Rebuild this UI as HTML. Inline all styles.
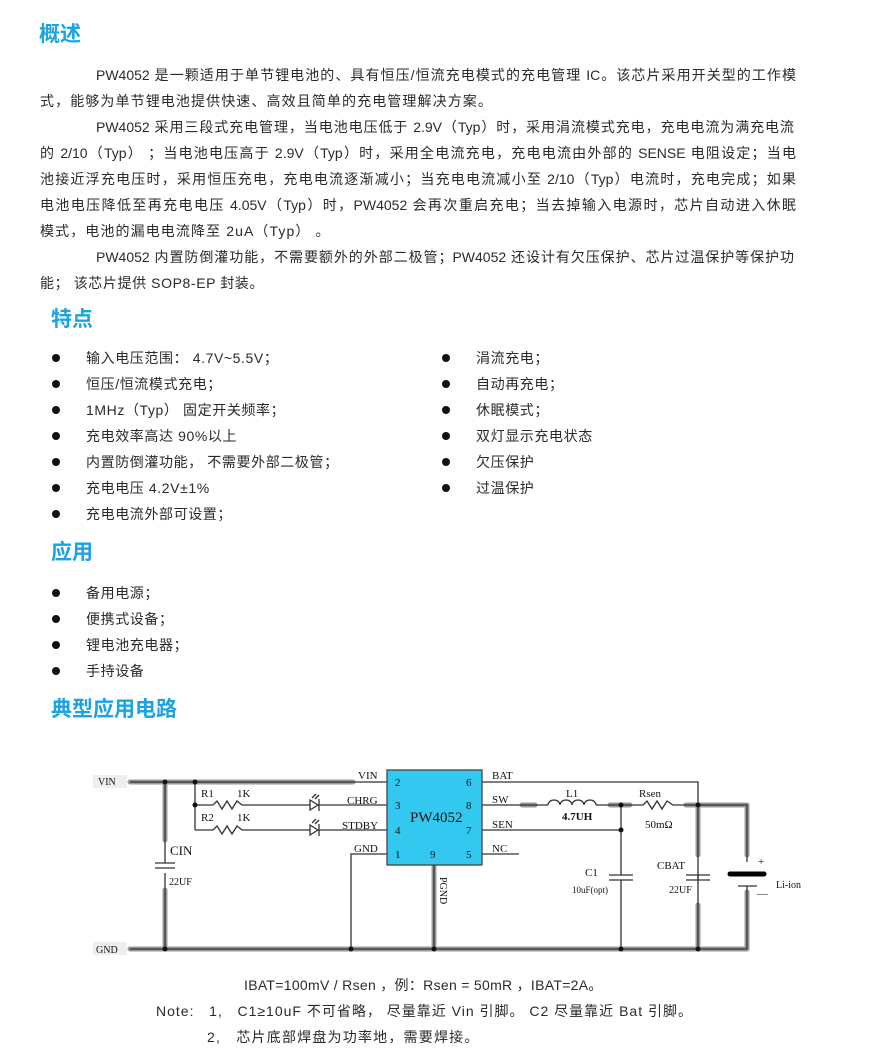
<!DOCTYPE html>
<html><head><meta charset="utf-8"><style>
body{margin:0;width:883px;height:1059px;background:#fff;position:relative;font-family:"Liberation Sans","Noto Sans CJK SC",sans-serif;color:#2a2a2a;overflow:hidden}
.t{position:absolute;font-size:14px;line-height:18px;white-space:nowrap;letter-spacing:1.1px}
.l{letter-spacing:0.6px}
.j{text-align:justify;text-align-last:justify;white-space:normal;letter-spacing:0}
.h{position:absolute;font-size:21px;font-weight:bold;color:#1ba3e4;line-height:24px}
.b{position:absolute;width:8px;height:8px;border-radius:50%;background:#111}
svg text{font-family:"Liberation Serif",serif;fill:#111}
</style></head><body>
<div class="h" style="left:39px;top:23px">概述</div>
<div class="t j" style="left:96px;top:66px;width:700px">PW4052 是一颗适用于单节锂电池的、具有恒压/恒流充电模式的充电管理 IC。该芯片采用开关型的工作模</div>
<div class="t" style="left:40px;top:92px">式，能够为单节锂电池提供快速、高效且简单的充电管理解决方案。</div>
<div class="t j" style="left:96px;top:118px;width:698px">PW4052 采用三段式充电管理，当电池电压低于 2.9V（Typ）时，采用涓流模式充电，充电电流为满充电流</div>
<div class="t j" style="left:40px;top:144px;width:756px">的 2/10（Typ） ；当电池电压高于 2.9V（Typ）时，采用全电流充电，充电电流由外部的 SENSE 电阻设定；当电</div>
<div class="t j" style="left:40px;top:170px;width:756px">池接近浮充电压时，采用恒压充电，充电电流逐渐减小；当充电电流减小至 2/10（Typ）电流时，充电完成；如果</div>
<div class="t j" style="left:40px;top:196px;width:756px">电池电压降低至再充电电压 4.05V（Typ）时，PW4052 会再次重启充电；当去掉输入电源时，芯片自动进入休眠</div>
<div class="t" style="left:40px;top:222px">模式，电池的漏电电流降至 2uA（Typ）  。</div>
<div class="t j" style="left:96px;top:248px;width:698px">PW4052 内置防倒灌功能，不需要额外的外部二极管；PW4052 还设计有欠压保护、芯片过温保护等保护功</div>
<div class="t l" style="left:40px;top:274px">能；  该芯片提供 SOP8-EP 封装。</div>

<div class="h" style="left:51px;top:308px">特点</div>
<div class="b" style="left:52px;top:354px"></div><div class="t l" style="left:86px;top:349px">输入电压范围：  4.7V~5.5V；</div>
<div class="b" style="left:52px;top:380px"></div><div class="t l" style="left:86px;top:375px">恒压/恒流模式充电；</div>
<div class="b" style="left:52px;top:406px"></div><div class="t l" style="left:86px;top:401px">1MHz（Typ） 固定开关频率；</div>
<div class="b" style="left:52px;top:432px"></div><div class="t l" style="left:86px;top:427px">充电效率高达 90%以上</div>
<div class="b" style="left:52px;top:458px"></div><div class="t l" style="left:86px;top:453px">内置防倒灌功能，  不需要外部二极管；</div>
<div class="b" style="left:52px;top:484px"></div><div class="t l" style="left:86px;top:479px">充电电压 4.2V±1%</div>
<div class="b" style="left:52px;top:510px"></div><div class="t l" style="left:86px;top:505px">充电电流外部可设置；</div>
<div class="b" style="left:442px;top:354px"></div><div class="t l" style="left:476px;top:349px">涓流充电；</div>
<div class="b" style="left:442px;top:380px"></div><div class="t l" style="left:476px;top:375px">自动再充电；</div>
<div class="b" style="left:442px;top:406px"></div><div class="t l" style="left:476px;top:401px">休眠模式；</div>
<div class="b" style="left:442px;top:432px"></div><div class="t l" style="left:476px;top:427px">双灯显示充电状态</div>
<div class="b" style="left:442px;top:458px"></div><div class="t l" style="left:476px;top:453px">欠压保护</div>
<div class="b" style="left:442px;top:484px"></div><div class="t l" style="left:476px;top:479px">过温保护</div>

<div class="h" style="left:51px;top:541px">应用</div>
<div class="b" style="left:52px;top:589px"></div><div class="t l" style="left:86px;top:584px">备用电源；</div>
<div class="b" style="left:52px;top:615px"></div><div class="t l" style="left:86px;top:610px">便携式设备；</div>
<div class="b" style="left:52px;top:641px"></div><div class="t l" style="left:86px;top:636px">锂电池充电器；</div>
<div class="b" style="left:52px;top:667px"></div><div class="t l" style="left:86px;top:662px">手持设备</div>
<div class="h" style="left:51px;top:698px">典型应用电路</div>

<svg style="position:absolute;left:0;top:0" width="883" height="1059">
<g stroke="#999" stroke-width="5" stroke-linecap="round" fill="none">
<line x1="130" y1="782" x2="353" y2="782"/>
<line x1="130" y1="949" x2="747" y2="949"/>
<line x1="165" y1="782" x2="165" y2="840"/>
<line x1="165" y1="890" x2="165" y2="949"/>
<line x1="434" y1="865" x2="434" y2="949"/>
<line x1="522" y1="805" x2="535" y2="805"/>
<line x1="610" y1="805" x2="630" y2="805"/>
<line x1="686" y1="805" x2="747" y2="805"/>
<line x1="747" y1="805" x2="747" y2="855"/>
<line x1="747" y1="892" x2="747" y2="949"/>
<line x1="698" y1="805" x2="698" y2="855"/>
<line x1="698" y1="905" x2="698" y2="949"/>
</g>
<g stroke="#333" stroke-width="1.3" fill="none">
<line x1="130" y1="782" x2="387" y2="782"/>
<line x1="130" y1="949" x2="747" y2="949"/>
<line x1="165" y1="782" x2="165" y2="863"/><line x1="165" y1="873" x2="165" y2="949"/>
<line x1="155" y1="863" x2="175" y2="863"/><line x1="155" y1="868" x2="175" y2="868"/>
<line x1="195" y1="782" x2="195" y2="830"/>
<line x1="195" y1="805" x2="213" y2="805"/><line x1="195" y1="830" x2="213" y2="830"/>
<polyline points="213,805 217,801 222,809 227,801 232,809 237,801 242,805 310,805"/>
<polyline points="213,830 217,826 222,834 227,826 232,834 237,826 242,830 310,830"/>
<polygon points="310,800 310,810 318,805" fill="#fff"/><line x1="319" y1="799" x2="319" y2="811"/>
<polygon points="310,825 310,835 318,830" fill="#fff"/><line x1="319" y1="824" x2="319" y2="836"/>
<line x1="312" y1="798" x2="316" y2="794"/><line x1="315" y1="799" x2="319" y2="795"/>
<line x1="312" y1="823" x2="316" y2="819"/><line x1="315" y1="824" x2="319" y2="820"/>
<line x1="319" y1="805" x2="387" y2="805"/><line x1="319" y1="830" x2="387" y2="830"/>
<polyline points="351,949 351,854 387,854"/>
<line x1="434" y1="865" x2="434" y2="949"/>
<polyline points="482,782 698,782 698,949"/>
<line x1="482" y1="805" x2="548" y2="805"/>
<path d="M548,805 a6,5 0 0 1 12,0 a6,5 0 0 1 12,0 a6,5 0 0 1 12,0 a6,5 0 0 1 12,0"/>
<line x1="596" y1="805" x2="643" y2="805"/>
<polyline points="643,805 647,801 652,809 657,801 662,809 667,801 673,805 747,805 747,862"/>
<line x1="482" y1="830" x2="621" y2="830"/>
<line x1="482" y1="854" x2="519" y2="854"/>
<line x1="621" y1="805" x2="621" y2="875"/><line x1="621" y1="880" x2="621" y2="949"/>
<line x1="609" y1="875" x2="633" y2="875"/><line x1="609" y1="880" x2="633" y2="880"/>
<line x1="698" y1="875" x2="698" y2="880"/>
<line x1="686" y1="875" x2="710" y2="875"/><line x1="686" y1="880" x2="710" y2="880"/>
<line x1="747" y1="886" x2="747" y2="949"/>
<line x1="738" y1="886" x2="757" y2="886"/>
</g>
<line x1="730" y1="874" x2="764" y2="874" stroke="#000" stroke-width="5" stroke-linecap="round"/>
<rect x="387" y="770" width="95" height="95" fill="#33c8f0" stroke="#444" stroke-width="1.3"/>
<g fill="#111">
<circle cx="165" cy="782" r="2.5"/><circle cx="195" cy="782" r="2.5"/><circle cx="195" cy="805" r="2.5"/>
<circle cx="165" cy="949" r="2.5"/><circle cx="351" cy="949" r="2.5"/><circle cx="434" cy="949" r="2.5"/>
<circle cx="621" cy="805" r="2.5"/><circle cx="621" cy="830" r="2.5"/><circle cx="698" cy="805" r="2.5"/>
<circle cx="621" cy="949" r="2.5"/><circle cx="698" cy="949" r="2.5"/>
</g>
<rect x="93" y="775" width="34" height="13" fill="#eee"/><rect x="93" y="942" width="34" height="13" fill="#eee"/>
<g font-size="10"><text x="98" y="785">VIN</text><text x="96" y="953">GND</text></g>
<g font-size="11">
<text x="358" y="779">VIN</text><text x="347" y="804">CHRG</text><text x="342" y="829">STDBY</text><text x="354" y="852">GND</text>
<text x="395" y="786">2</text><text x="395" y="809">3</text><text x="395" y="834">4</text><text x="395" y="858">1</text>
<text x="466" y="786">6</text><text x="466" y="809">8</text><text x="466" y="834">7</text><text x="466" y="858">5</text>
<text x="430" y="858">9</text>
<text x="492" y="779">BAT</text><text x="492" y="803">SW</text><text x="492" y="828">SEN</text><text x="492" y="852">NC</text>
<text x="201" y="797">R1</text><text x="237" y="797">1K</text><text x="201" y="821">R2</text><text x="237" y="821">1K</text>
<text x="566" y="797">L1</text><text x="639" y="797">Rsen</text><text x="645" y="828">50mΩ</text>
<text x="585" y="876">C1</text><text x="657" y="869">CBAT</text>
<text x="669" y="893" font-size="10">22UF</text><text x="572" y="893" font-size="9">10uF(opt)</text>
<text x="169" y="885" font-size="10">22UF</text><text x="776" y="888" font-size="10">Li-ion</text>
<text x="758" y="865">+</text><text x="757" y="897">—</text>
</g>
<text x="170" y="855" font-size="13">CIN</text>
<text x="410" y="822" font-size="15">PW4052</text>
<text x="562" y="820" font-size="11" font-weight="bold">4.7UH</text>
<text x="440" y="877" font-size="10" transform="rotate(90 440 877)">PGND</text>
</svg>

<div class="t" style="left:244px;top:976px;letter-spacing:0.3px">IBAT=100mV / Rsen  ，例：Rsen = 50mR  ，IBAT=2A。</div>
<div class="t" style="left:156px;top:1002px;letter-spacing:1px">Note:  &nbsp; 1,  &nbsp;  C1≥10uF 不可省略，  尽量靠近 Vin 引脚。 C2 尽量靠近 Bat 引脚。</div>
<div class="t" style="left:207px;top:1028px;letter-spacing:1.2px">2,  &nbsp;  芯片底部焊盘为功率地，需要焊接。</div>
</body></html>
